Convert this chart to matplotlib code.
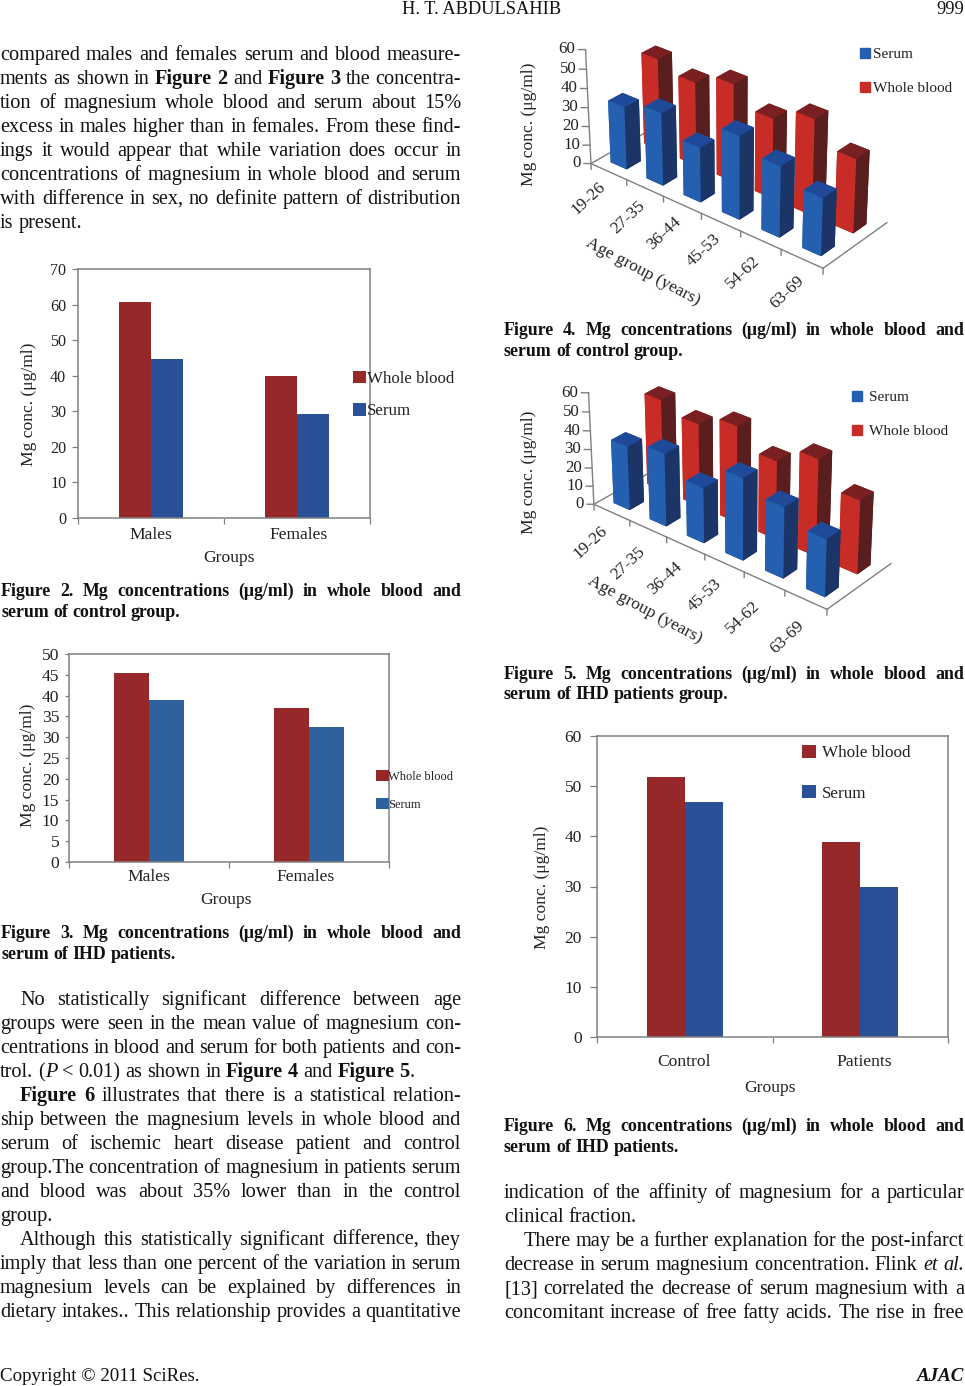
# Journal page with Mg concentration charts (figures 2 to 6)
import matplotlib
matplotlib.use("Agg")
import matplotlib.pyplot as plt
from matplotlib.patches import Patch
import numpy as np

W, H = 965, 1386
plt.rcParams['font.family'] = ['Liberation Serif', 'DejaVu Serif']

RED = '#96282a'
BLUE = '#2a5197'
BLUE3 = '#30619f'
GRAY = '#808080'
TXT = '#222222'

# data of the flat bar charts
fig2_groups = ['Males', 'Females']
fig2_blood = [60.8, 40.0]
fig2_serum = [44.8, 29.3]

fig3_groups = ['Males', 'Females']
fig3_blood = [45.4, 37.1]
fig3_serum = [38.9, 32.4]

fig6_groups = ['Control', 'Patients']
fig6_blood = [51.8, 38.9]
fig6_serum = [46.8, 30.0]

# data of the 3d charts
age_groups = ['19-26', '27-35', '36-44', '45-53', '54-62', '63-69']
fig4_serum = [33, 38, 28.5, 43, 36.5, 29.5]
fig4_blood = [48.5, 44, 51, 41.5, 49.5, 38]
fig5_serum = [34.5, 39, 29.5, 43.3, 37.2, 30]
fig5_blood = [49.5, 44.5, 51.5, 41.5, 51, 38.5]

# page text: ^ marks a bold word, ~ an italic one, | joins two pieces without a space
col_left = [
    (54, 0, 'compared males and females serum and blood measure-', True),
    (78, 0, 'ments as shown in ^Figure ^2 and ^Figure ^3 the concentra-', True),
    (102, 0, 'tion of magnesium whole blood and serum about 15%', True),
    (126, 0, 'excess in males higher than in females. From these find-', True),
    (150, 0, 'ings it would appear that while variation does occur in', True),
    (174, 0, 'concentrations of magnesium in whole blood and serum', True),
    (198, 0, 'with difference in sex, no definite pattern of distribution', True),
    (222, 0, 'is present.', False),
    (999, 20, 'No statistically significant difference between age', True),
    (1023, 0, 'groups were seen in the mean value of magnesium con-', True),
    (1047, 0, 'centrations in blood and serum for both patients and con-', True),
    (1071, 0, 'trol. (|~P < 0.01) as shown in ^Figure ^4 and ^Figure ^5|.', False),
    (1095, 20, '^Figure ^6 illustrates that there is a statistical relation-', True),
    (1119, 0, 'ship between the magnesium levels in whole blood and', True),
    (1143, 0, 'serum of ischemic heart disease patient and control', True),
    (1167, 0, 'group.The concentration of magnesium in patients serum', True),
    (1191, 0, 'and blood was about 35% lower than in the control', True),
    (1215, 0, 'group.', False),
    (1239, 20, 'Although this statistically significant difference, they', True),
    (1263, 0, 'imply that less than one percent of the variation in serum', True),
    (1287, 0, 'magnesium levels can be explained by differences in', True),
    (1311, 0, 'dietary intakes.. This relationship provides a quantitative', True),
]
col_right = [
    (1192, 0, 'indication of the affinity of magnesium for a particular', True),
    (1216, 0, 'clinical fraction.', False),
    (1240, 20, 'There may be a further explanation for the post-infarct', True),
    (1264, 0, 'decrease in serum magnesium concentration. Flink ~et ~al.', True),
    (1288, 0, '[13] correlated the decrease of serum magnesium with a', True),
    (1312, 0, 'concomitant increase of free fatty acids. The rise in free', True),
]
caption_left = [
    (590, 'Figure 2. Mg concentrations (μg/ml) in whole blood and', True),
    (611, 'serum of control group.', False),
    (932, 'Figure 3. Mg concentrations (μg/ml) in whole blood and', True),
    (953, 'serum of IHD patients.', False),
]
caption_right = [
    (329, 'Figure 4. Mg concentrations (μg/ml) in whole blood and', True),
    (350, 'serum of control group.', False),
    (673, 'Figure 5. Mg concentrations (μg/ml) in whole blood and', True),
    (693, 'serum of IHD patients group.', False),
    (1125, 'Figure 6. Mg concentrations (μg/ml) in whole blood and', True),
    (1146, 'serum of IHD patients.', False),
]

fig = plt.figure(figsize=(W / 100, H / 100), dpi=100, facecolor='white')
page = fig.add_axes([0, 0, 1, 1])
page.set_xlim(0, W)
page.set_ylim(H, 0)
page.axis('off')
renderer = fig.canvas.get_renderer()


def put_line(y, x0, x1, line, size, bold=False, justify=True):
    # words are placed one by one so the line fills the column
    items = []
    for word in line.split(' '):
        pieces = []
        for w in word.split('|'):
            weight = 'bold' if bold or w.startswith('^') else 'normal'
            style = 'italic' if w.startswith('~') else 'normal'
            t = page.text(0, y + 6, w.lstrip('^~'), fontsize=size, fontweight=weight, fontstyle=style,
                          color='#111111', va='baseline', ha='left')
            pieces.append((t, t.get_window_extent(renderer).width))
        items.append(pieces)
    total = sum(p[1] for pieces in items for p in pieces)
    gap = size * 0.34
    if justify and len(items) > 1:
        gap = (x1 - x0 - total) / (len(items) - 1)
    x = x0
    for pieces in items:
        for t, width in pieces:
            t.set_x(x)
            x += width
        x += gap


for y, ind, line, just in col_left:
    put_line(y, 0 + ind, 461, line, 14.55, justify=just)
for y, ind, line, just in col_right:
    put_line(y, 504 + ind, 964, line, 14.55, justify=just)
for y, line, just in caption_left:
    put_line(y, 1, 461, line, 12.9, bold=True, justify=just)
for y, line, just in caption_right:
    put_line(y, 504, 964, line, 12.9, bold=True, justify=just)

page.text(482, 14, 'H. T. ABDULSAHIB', fontsize=13.2, ha='center', va='baseline', color='#111111')
page.text(964, 14, '999', fontsize=13.2, ha='right', va='baseline', color='#111111')
page.text(0, 1381, 'Copyright © 2011 SciRes.', fontsize=13.6, va='baseline', color='#111111')
page.text(964, 1381, 'AJAC', fontsize=13.6, ha='right', va='baseline', color='#111111',
          fontweight='bold', fontstyle='italic')


def px_axes(x0, y0, x1, y1, **kw):
    # axes from page pixels, y0 is the top edge
    return fig.add_axes([x0 / W, 1 - y1 / H, (x1 - x0) / W, (y1 - y0) / H], **kw)


def flat_chart(box, groups, blood, serum, ymax, step, blue, bar_w, tick, group_pos, xlab_pos, ylab_pos, leg):
    ax = px_axes(*box)
    ax.patch.set_alpha(0)
    x = np.arange(len(groups)) + 0.5
    ax.bar(x - bar_w / 2, blood, bar_w, color=RED, label='Whole blood')
    ax.bar(x + bar_w / 2, serum, bar_w, color=blue, label='Serum')
    ax.set_xlim(0, len(groups))
    ax.set_ylim(0, ymax)
    ax.set_yticks(np.arange(0, ymax + 1, step))
    ax.set_xticks(np.arange(len(groups) + 1))
    ax.set_xticklabels([])
    ax.tick_params(axis='y', length=tick[1], width=0.9, color=GRAY, labelsize=tick[0], labelcolor=TXT, pad=tick[2])
    ax.tick_params(axis='x', length=4.5, width=0.9, color=GRAY)
    for s in ax.spines.values():
        s.set_color(GRAY)
        s.set_linewidth(1.1)
    for (px, py), name in zip(group_pos, groups):
        page.text(px, py, name, ha='center', va='center', fontsize=12.6, color=TXT)
    page.text(xlab_pos[0], xlab_pos[1], 'Groups', ha='center', va='center', fontsize=12.6, color=TXT)
    page.text(ylab_pos[0], ylab_pos[1], 'Mg conc. (μg/ml)', ha='center', va='center', rotation=90, fontsize=12.6, color=TXT)
    handles, labels = ax.get_legend_handles_labels()
    fig.legend(handles, labels, loc='upper left', bbox_to_anchor=(leg[0] / W, 1 - leg[1] / H), frameon=False,
               fontsize=leg[2], handlelength=leg[3], handleheight=leg[3], handletextpad=leg[4], labelspacing=leg[5],
               borderpad=0, borderaxespad=0, labelcolor=TXT)
    return ax


flat_chart((78, 269, 370, 518), fig2_groups, fig2_blood, fig2_serum, 70, 10, BLUE, 0.216, (11.6, 4.5, 4),
           [(151, 535), (299, 535)], (229, 558), (29, 404), (353, 371, 12.2, 0.75, 0.05, 0.95))
flat_chart((69, 654, 389, 862), fig3_groups, fig3_blood, fig3_serum, 50, 5, BLUE3, 0.216, (12.6, 3, 4),
           [(149, 877), (306, 877)], (226, 900), (28, 765), (376, 770, 9.0, 1.0, 0.0, 1.19))
flat_chart((597, 736, 948, 1037), fig6_groups, fig6_blood, fig6_serum, 60, 10, BLUE, 0.2165, (12.5, 5, 6),
           [(684, 1062), (864, 1062)], (770, 1088), (542, 887), (802, 745, 12.3, 0.8, 0.35, 1.4))

# camera of the 3d panels
ELEV, AZIM, FOCAL = 29.8, -50.3, 0.577
DEPTH, ZOOM = 0.992, 0.605


def chart_3d(box, height, serum, blood, ylab_pos, age_pos, agelab_pos, leg_serum, leg_blood, pad):
    ax = px_axes(*box, projection='3d', computed_zorder=False)
    ax.patch.set_alpha(0)
    ax.set_proj_type('persp', focal_length=FOCAL)
    ax.view_init(elev=ELEV, azim=AZIM)
    n = len(age_groups)
    ax.set_box_aspect((2.9, DEPTH, height), zoom=ZOOM)
    ax.set_xlim(0, n)
    ax.set_ylim(0, 2)
    ax.set_zlim(0, 60)
    ax.set_axis_off()

    # floor outline, value axis and ticks
    for xs, ys in [((0, n), (0, 0)), ((n, n), (0, 2)), ((0, 0), (0, 2))]:
        ax.plot(xs, ys, [0, 0], color=GRAY, lw=1.0, zorder=1)
    ax.plot([0, 0], [0, 0], [0, 60], color=GRAY, lw=1.0, zorder=1)
    for v in range(0, 61, 10):
        ax.plot([-0.11, 0], [-0.086, 0], [v, v], color=GRAY, lw=1.0, zorder=1)
        ax.text(-0.16, -0.12, v, str(v), fontsize=12.2, ha='right', va='center', color=TXT)
    for i in range(n + 1):
        ax.plot([i, i], [0, 0], [0, -3], color=GRAY, lw=1.0, zorder=1)

    # rotated labels go on the page axes, 3d text ignores rotation
    for (px, py), name in zip(age_pos, age_groups):
        page.text(px, py, name, fontsize=12.4, rotation=43, ha='center', va='center', color=TXT)
    page.text(agelab_pos[0], agelab_pos[1], 'Age group (years)', fontsize=12.6, rotation=-28, ha='center', va='center', color=TXT)
    page.text(ylab_pos[0], ylab_pos[1], 'Mg conc. (μg/ml)', fontsize=12.6, rotation=90, ha='center', va='center', color=TXT)

    # back row first, inside a row from the far end to the near one
    dx, dy = 0.45, 0.42
    red_faces = ['#7a1f1f', '#7a2022', '#c72c27', '#5a1e1e', '#c72c27', '#5a1e1e']
    blue_faces = ['#1d3c80', '#1f4a99', '#2560b0', '#1b3568', '#2560b0', '#1b3568']
    order = 10
    for depth, values, faces in [(1.5, blood, red_faces), (0.5, serum, blue_faces)]:
        for i in range(n):
            ax.bar3d(i + 0.5 - dx / 2, depth - dy / 2, 0, dx, dy, values[i], color=faces, shade=False,
                     edgecolor='none', zorder=order)
            order += 1

    for (lx, ly), name, col in [(leg_serum, 'Serum', '#2560b0'), (leg_blood, 'Whole blood', '#c72c27')]:
        fig.legend([Patch(color=col)], [name], loc='upper left', bbox_to_anchor=(lx / W, 1 - ly / H), frameon=False,
                   fontsize=11, handlelength=0.65, handleheight=0.65, handletextpad=pad, borderpad=0, borderaxespad=0,
                   labelcolor=TXT)
    return ax


chart_3d((447.2, -137.1, 1007.2, 422.9), 1.272, fig4_serum, fig4_blood, (529, 124),
         [(588, 198), (628, 217), (664, 233), (704, 250), (743, 272), (787, 292)], (643, 272),
         (860, 48), (860, 82), 0.2)
chart_3d((450.7, 204.9, 1010.7, 764.9), 1.24, fig5_serum, fig5_blood, (529, 472),
         [(590, 542), (628, 563), (665, 578), (705, 595), (743, 617), (787, 637)], (645, 610),
         (852, 391), (852, 425), 0.45)

fig.savefig('out.png', dpi=100, facecolor='white')
